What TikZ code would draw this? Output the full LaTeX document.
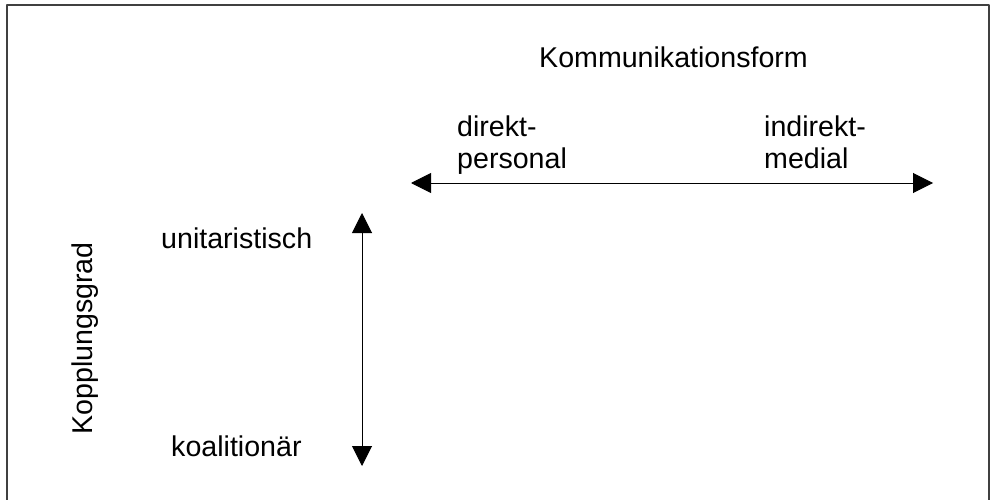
\documentclass[tikz,border=0pt]{standalone}
\usepackage{fontspec}
\setmainfont{Liberation Sans}
\usetikzlibrary{arrows.meta}
\begin{document}
\begin{tikzpicture}[x=1pt, y=-1pt, line cap=round, line join=round,
  lbl/.style={inner sep=0pt, anchor=base west, align=left, font=\fontsize{28.6}{32}\selectfont},
  achse/.style={line width=1pt, {Triangle[length=20pt, width=20pt]}-{Triangle[length=20pt, width=20pt]}}]
  \useasboundingbox (0,0) rectangle (990,500);
  \clip (0,0) rectangle (990,500);
  % Rahmen (unten offen)
  \draw[line width=2pt, black!75] (7,520) rectangle (989,5);
  % Endpunkte der Achsen
  \coordinate (KL) at (411,183);   % direkt-personal
  \coordinate (KR) at (933,183);   % indirekt-medial
  \coordinate (GO) at (362,213);   % unitaristisch
  \coordinate (GU) at (362,466);   % koalitionaer
  % Achsen
  \draw[achse] (KL) -- (KR);
  \draw[achse] (GO) -- (GU);
  % Beschriftungen
  \node[lbl] (form)  at (539,67.5) {Kommunikationsform};
  \node[lbl] (dir)   at (457,168.2) {direkt-\\personal};
  \node[lbl] (indir) at (764,168.6) {indirekt-\\medial};
  \node[lbl] (uni)   at (161,248) {unitaristisch};
  \node[lbl] (koal)  at (171,456) {koalitionär};
  \node[lbl, anchor=base, rotate=90] (grad) at (92,338.5) {Kopplungsgrad};
\end{tikzpicture}
\end{document}
